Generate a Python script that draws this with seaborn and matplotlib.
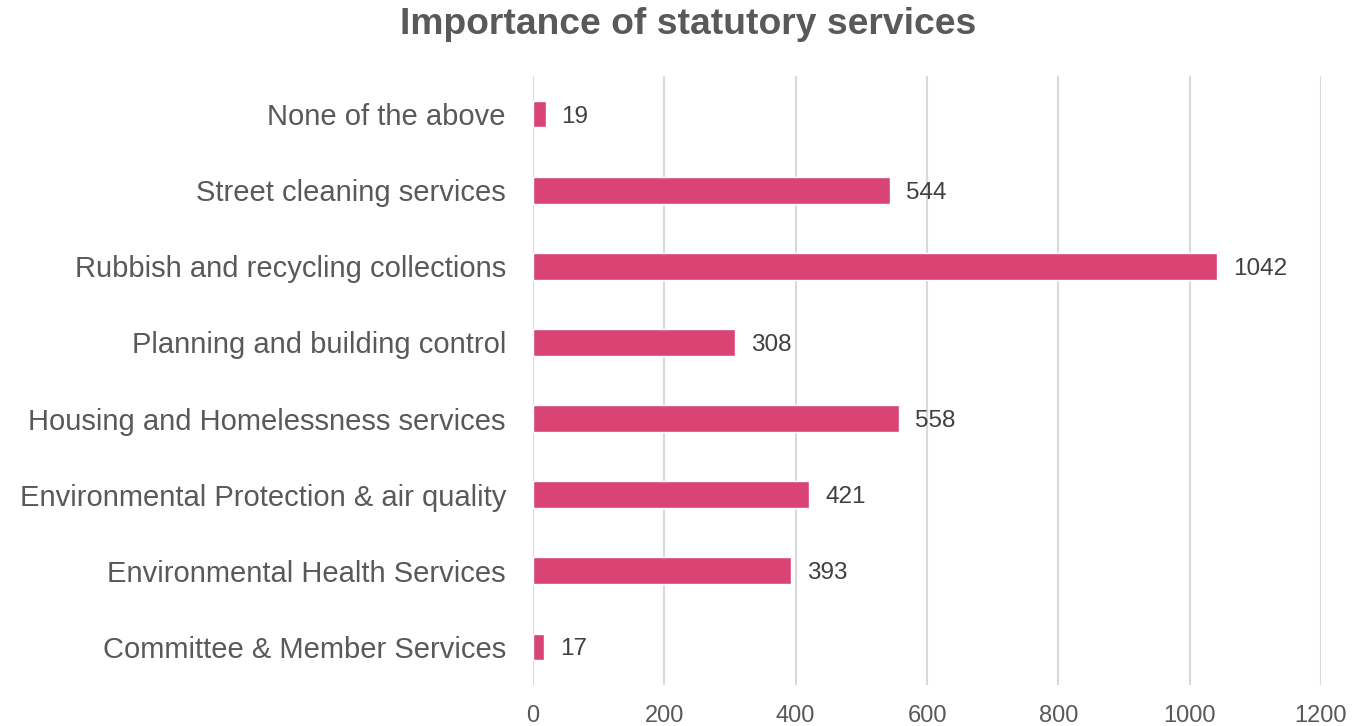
import matplotlib
matplotlib.use("Agg")
import matplotlib.pyplot as plt
import seaborn as sns
import pandas as pd

categories = [
    "None of the above",
    "Street cleaning services",
    "Rubbish and recycling collections",
    "Planning and building control",
    "Housing and Homelessness services",
    "Environmental Protection & air quality",
    "Environmental Health Services",
    "Committee & Member Services",
]
counts = [19, 544, 1042, 308, 558, 421, 393, 17]
x_ticks = [0, 200, 400, 600, 800, 1000, 1200]

df = pd.DataFrame({"service": categories, "count": counts})

sns.set_theme(style="white")
plt.rcParams["font.family"] = ["Liberation Sans", "DejaVu Sans"]

fig = plt.figure(figsize=(13.71, 7.26), dpi=100)
ax = fig.add_axes([0.3888, 0.0565, 0.5747, 0.8388])

sns.barplot(data=df, x="count", y="service", color="#D94475", width=0.35,
            saturation=1, ax=ax, zorder=3)

for i, v in enumerate(counts):
    ax.text(v + 24, i, str(v), va="center_baseline", ha="left", fontsize=17.5,
            color="#404040")

ax.set_xlim(0, 1200)
ax.set_xticks(x_ticks)
ax.set_xticklabels([str(t) for t in x_ticks], fontsize=17, color="#595959")
ax.tick_params(axis="x", pad=14.5, length=0)
ax.tick_params(axis="y", labelsize=21, labelcolor="#595959", length=0, pad=19.5)
ax.grid(axis="x", color="#D9D9D9", linewidth=1.5, zorder=0)
ax.set_xlabel("")
ax.set_ylabel("")
for s in ax.spines.values():
    s.set_visible(False)

fig.suptitle("Importance of statutory services", x=0.502, y=0.99, fontsize=26.8,
             fontweight="bold", color="#595959", va="top")

fig.savefig("out.png", dpi=100)
